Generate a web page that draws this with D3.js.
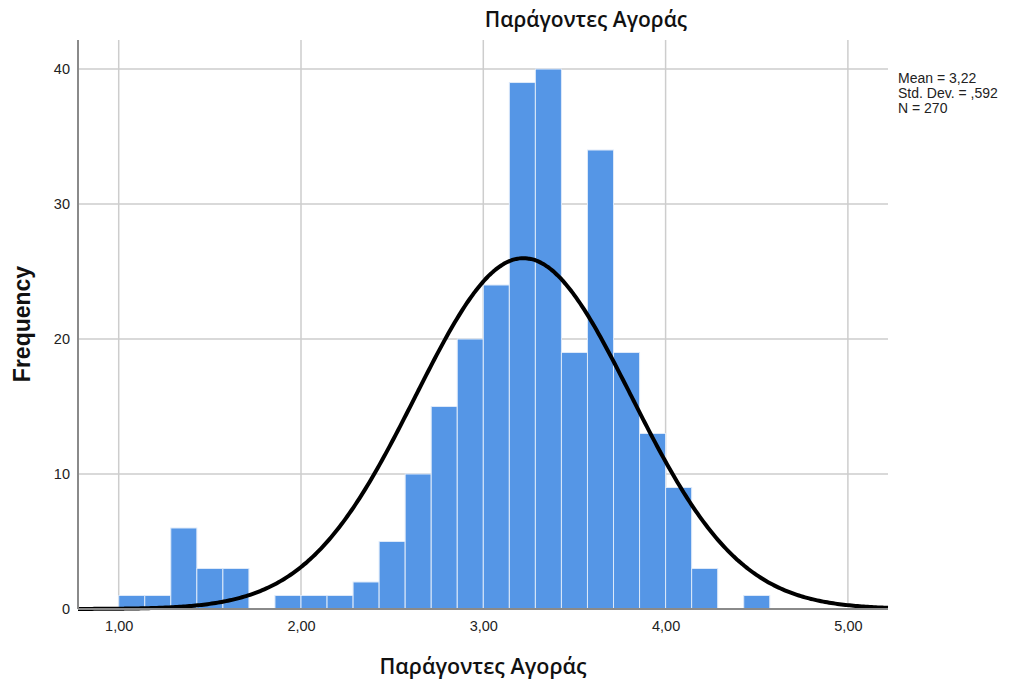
<!DOCTYPE html>
<html>
<head>
<meta charset="utf-8">
<script src="https://cdn.jsdelivr.net/npm/d3@7"></script>
<style>
  html, body { margin: 0; padding: 0; background: #fff; }
  svg { display: block; }
</style>
</head>
<body>
<svg id="chart" width="1011" height="682"></svg>
<script>
// Histogram of the "Παράγοντες Αγοράς" scale score (bins of width 1/7)
const title = "Παράγοντες Αγοράς";
const xTitle = "Παράγοντες Αγοράς";
const yTitle = "Frequency";
const binStart = 1.0;
const binWidth = 1 / 7;
const counts = [1, 1, 6, 3, 3, 0, 1, 1, 1, 2, 5, 10, 15, 20, 24, 39, 40, 19, 34, 19, 13, 9, 3, 0, 1];
const xTicks = [1, 2, 3, 4, 5];
const yTicks = [0, 10, 20, 30, 40];
const statsMean = 3.22;
const statsSd = 0.592;
const statsN = 270;
const statsLines = ["Mean = 3,22", "Std. Dev. = ,592", "N = 270"];

const bins = counts.map((c, i) => ({ x0: binStart + i * binWidth, x1: binStart + (i + 1) * binWidth, count: c }));

const svg = d3.select("#chart");
const plot = { left: 78, right: 888, top: 40, bottom: 609 };

const x = d3.scaleLinear().domain([0.7767, 5.22]).range([plot.left, plot.right]);
const y = d3.scaleLinear().domain([0, 42.15]).range([plot.bottom, plot.top]);

const fmt = d => d3.format(".2f")(d).replace(".", ",");

// grid
const grid = svg.append("g").attr("stroke", "#cdcdcd").attr("stroke-width", 1.5);
grid.selectAll("line.v").data(xTicks).join("line")
  .attr("x1", d => x(d)).attr("x2", d => x(d))
  .attr("y1", plot.top).attr("y2", plot.bottom);
grid.selectAll("line.h").data(yTicks.filter(d => d > 0)).join("line")
  .attr("x1", plot.left).attr("x2", plot.right)
  .attr("y1", d => y(d)).attr("y2", d => y(d));

// bars
svg.append("g").selectAll("rect").data(bins.filter(b => b.count > 0)).join("rect")
  .attr("x", d => x(d.x0))
  .attr("width", d => x(d.x1) - x(d.x0))
  .attr("y", d => y(d.count))
  .attr("height", d => y(0) - y(d.count))
  .attr("fill", "#5596e6")
  .attr("stroke", "#dde9f9")
  .attr("stroke-width", 1);

// normal curve
const scale = statsN * binWidth / (statsSd * Math.sqrt(2 * Math.PI));
const dens = v => scale * Math.exp(-0.5 * Math.pow((v - statsMean) / statsSd, 2));
const xs = d3.range(0, 401).map(i => x.domain()[0] + (x.domain()[1] - x.domain()[0]) * i / 400);
svg.append("path")
  .datum(xs)
  .attr("fill", "none")
  .attr("stroke", "#000")
  .attr("stroke-width", 4)
  .attr("d", d3.line().x(d => x(d)).y(d => y(dens(d))).curve(d3.curveBasis));

// axes
const xAxis = svg.append("g").attr("transform", `translate(0,${plot.bottom})`)
  .call(d3.axisBottom(x).tickValues(xTicks).tickFormat(fmt).tickSize(0).tickPadding(12));
const yAxis = svg.append("g").attr("transform", `translate(${plot.left},0)`)
  .call(d3.axisLeft(y).tickValues(yTicks).tickFormat(d3.format("d")).tickSize(0).tickPadding(8));
[xAxis, yAxis].forEach(a => {
  a.select(".domain").attr("stroke", "#8a8a8a").attr("stroke-width", 2);
  a.selectAll("text").attr("font-family", "Liberation Sans, Arial, sans-serif")
    .attr("font-size", 14.5).attr("fill", "#222");
});
xAxis.select(".domain").attr("d", `M${plot.left},0H${plot.right}`);
yAxis.select(".domain").attr("d", `M0,${plot.bottom}V${plot.top}`);

// titles
svg.append("text").attr("x", 586).attr("y", 27).attr("text-anchor", "middle")
  .attr("font-family", "Open Sans, Noto Sans, sans-serif").attr("font-size", 21)
  .attr("font-weight", 600).attr("fill", "#111").text(title);
svg.append("text").attr("x", 483).attr("y", 674).attr("text-anchor", "middle")
  .attr("font-family", "Open Sans, Noto Sans, sans-serif").attr("font-size", 21.5)
  .attr("font-weight", 600).attr("fill", "#111").text(xTitle);
svg.append("text").attr("transform", "translate(30,324) rotate(-90)").attr("text-anchor", "middle")
  .attr("font-family", "Liberation Sans, Arial, sans-serif").attr("font-size", 23)
  .attr("font-weight", "bold").attr("fill", "#111").text(yTitle);

// statistics box
svg.append("g").selectAll("text").data(statsLines).join("text")
  .attr("x", 898).attr("y", (d, i) => 83 + i * 15)
  .attr("font-family", "Liberation Sans, Arial, sans-serif").attr("font-size", 14)
  .attr("fill", "#222").text(d => d);
</script>
</body>
</html>
